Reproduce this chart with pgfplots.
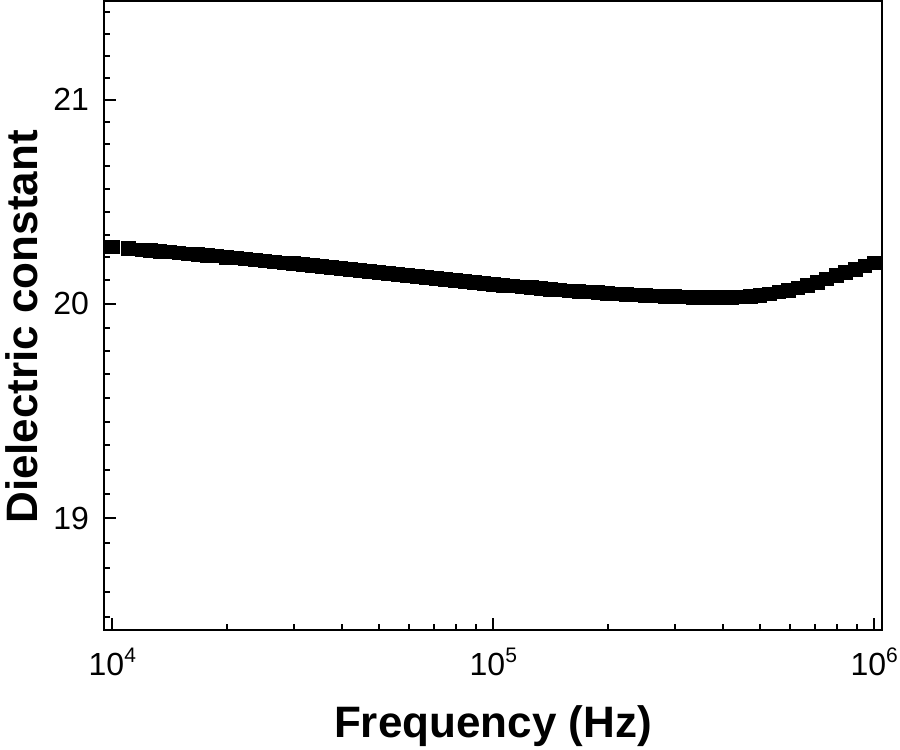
\documentclass[border=0pt]{standalone}
\usepackage{fontspec}
\setmainfont{Liberation Sans}
\usepackage{pgfplots}
\pgfplotsset{compat=1.18}

\newcommand{\tenpow}[1]{10\raisebox{6.5pt}{\fontsize{10.5pt}{12pt}\selectfont #1}}

\begin{document}
\begin{tikzpicture}
\useasboundingbox (-52pt,-60pt) rectangle (398pt,315pt);
\begin{axis}[
  at={(0,0)}, anchor=south west,
  scale only axis,
  width=389pt, height=314.25pt,
  xmode=log, ymode=log,
  xmin=9510, xmax=1.048e6,
  ymin=18.5, ymax=21.5,
  xtick={1e4,1e5,1e6},
  xticklabels={\tenpow{4},\tenpow{5},\tenpow{6}},
  ytick={19,20,21},
  yticklabels={19,20,21},
  minor ytick={18.556,18.667,18.778,18.889,
    19.111,19.222,19.333,19.444,19.556,19.667,19.778,19.889,
    20.111,20.222,20.333,20.444,20.556,20.667,20.778,20.889,
    21.111,21.222,21.333,21.444},
  tick pos=left,
  tick align=inside,
  major tick length=6pt,
  minor tick length=3pt,
  every tick/.style={black, line width=1pt},
  axis line style={line width=1pt},
  tick label style={font=\fontsize{16pt}{19pt}\selectfont, inner sep=0pt},
  xticklabel style={anchor=base, yshift=-23pt},
  yticklabel style={anchor=east, xshift=-7.35pt},
  xlabel={Frequency (Hz)},
  ylabel={Dielectric constant},
  label style={font=\fontsize{22pt}{26pt}\selectfont\bfseries},
  xlabel style={at={(axis description cs:0.5,-0.1714)}, anchor=base},
  ylabel style={at={(axis description cs:-0.0861,0.482)}, anchor=base},
]
\addplot[only marks, mark=square*, mark size=3.4pt, color=black] coordinates {
(10000,20.272) (11000,20.264) (12000,20.259)
(12589,20.256) (13335,20.252) (14125,20.248) (14962,20.244)
(15849,20.240) (16788,20.236) (17783,20.232) (18836,20.228)
(19953,20.223) (21135,20.219) (22387,20.214) (23714,20.210)
(25119,20.205) (26607,20.201) (28184,20.196) (29854,20.192)
(31623,20.187) (33497,20.183) (35481,20.178) (37584,20.173)
(39811,20.168) (42170,20.164) (44668,20.159) (47315,20.154)
(50119,20.149) (53088,20.144) (56234,20.139) (59566,20.134)
(63096,20.129) (66834,20.125) (70795,20.120) (74989,20.115)
(79433,20.110) (84140,20.106) (89125,20.101) (94406,20.097)
(100000,20.092) (105930,20.088) (112200,20.084) (118850,20.080)
(125890,20.076) (133350,20.072) (141250,20.068) (149620,20.065)
(158490,20.061) (167880,20.058) (177830,20.055) (188360,20.052)
(199530,20.049) (211350,20.046) (223870,20.044) (237140,20.041)
(251190,20.039) (266070,20.037) (281840,20.035) (298540,20.033)
(316230,20.031) (334970,20.030) (354810,20.029) (375840,20.028)
(398110,20.028) (421700,20.029) (446680,20.031) (473150,20.034)
(501190,20.040) (530880,20.047) (562340,20.055) (595660,20.064)
(630960,20.075) (668340,20.088) (707950,20.102) (749890,20.118)
(794330,20.134) (841400,20.150) (891250,20.165) (944060,20.180)
(1000000,20.195)
};
\end{axis}
\end{tikzpicture}
\end{document}
